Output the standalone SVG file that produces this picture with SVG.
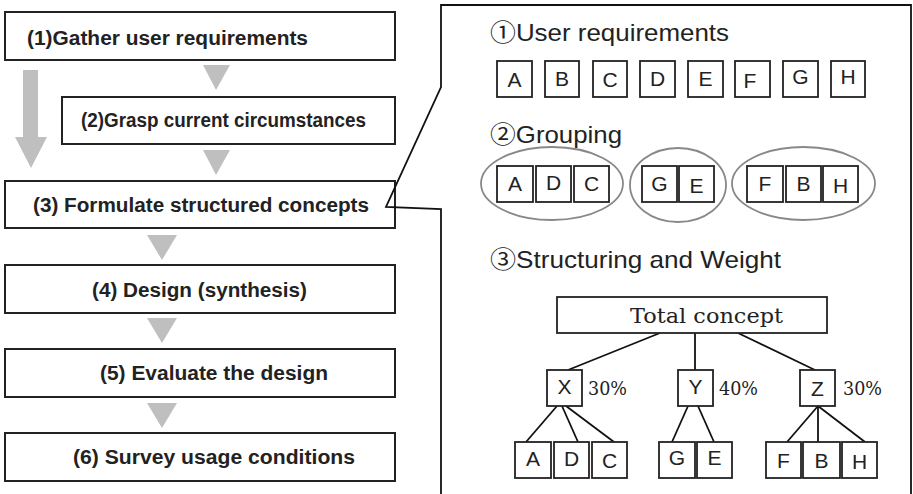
<svg xmlns="http://www.w3.org/2000/svg" width="913" height="494" viewBox="0 0 913 494">
<style>
.step{fill:#fff;stroke:#222;stroke-width:2}
.st{font-family:"Liberation Sans",Arial,sans-serif;font-weight:bold;font-size:19.5px;fill:#222}
.tri{fill:#bfbfbf}
.hd{font-family:"Liberation Sans","Noto Sans CJK JP",Arial,sans-serif;font-size:24px;fill:#222}
.bx{fill:#fff;stroke:#222;stroke-width:1.8}
.lt{font-family:"Liberation Sans",Arial,sans-serif;font-size:21px;fill:#222;text-anchor:middle}
.ell{fill:none;stroke:#888;stroke-width:1.8}
.ln{stroke:#111;stroke-width:1.8;fill:none}
.pct{font-family:"DejaVu Serif","Liberation Serif",serif;font-size:18px;fill:#222}
</style>
<g id="flow-arrows">
<polygon class="tri" points="23,70 38,70 38,137 47,137 31,168 15,137 23,137"/>
<polygon class="tri" points="203,65 230,65 216,90"/>
<polygon class="tri" points="203,150 230,150 216,175"/>
<polygon class="tri" points="147,235 177,235 162,260"/>
<polygon class="tri" points="147,318 177,318 162,343"/>
<polygon class="tri" points="147,403 177,403 162,428"/>
</g>
<g id="step1"><rect class="step" x="5" y="12" width="390" height="48"/><text class="st" x="27" y="45" textLength="281" lengthAdjust="spacingAndGlyphs">(1)Gather user requirements</text></g>
<g id="step2"><rect class="step" x="62" y="97" width="333" height="47"/><text class="st" x="81" y="127" font-size="18" textLength="285" lengthAdjust="spacingAndGlyphs">(2)Grasp current circumstances</text></g>
<g id="step3"><rect class="step" x="5" y="181" width="390" height="47"/><text class="st" x="33" y="212" textLength="336" lengthAdjust="spacingAndGlyphs">(3) Formulate structured concepts</text></g>
<g id="step4"><rect class="step" x="5" y="265" width="390" height="48"/><text class="st" x="92" y="297" textLength="215" lengthAdjust="spacingAndGlyphs">(4) Design (synthesis)</text></g>
<g id="step5"><rect class="step" x="5" y="349" width="390" height="48"/><text class="st" x="100" y="380" textLength="228" lengthAdjust="spacingAndGlyphs">(5) Evaluate the design</text></g>
<g id="step6"><rect class="step" x="5" y="433" width="390" height="48"/><text class="st" x="73" y="464" textLength="282" lengthAdjust="spacingAndGlyphs">(6) Survey usage conditions</text></g>
<g id="callout">
<path class="ln" stroke-width="2" d="M441,494 V209 L386,207 L441,87 V5 H911 V494"/>
</g>
<g id="sec1">
<text class="hd" x="490" y="41" textLength="239" lengthAdjust="spacingAndGlyphs">①User requirements</text>
<g id="req">
<rect class="bx" x="497" y="61" width="35" height="36"/><text class="lt" x="514.5" y="87">A</text>
<rect class="bx" x="545" y="61" width="34" height="36"/><text class="lt" x="562" y="86">B</text>
<rect class="bx" x="593" y="61" width="34" height="36"/><text class="lt" x="610" y="87">C</text>
<rect class="bx" x="640" y="61" width="35" height="36"/><text class="lt" x="657.5" y="86">D</text>
<rect class="bx" x="688" y="61" width="35" height="36"/><text class="lt" x="705.5" y="86">E</text>
<rect class="bx" x="735" y="61" width="35" height="36"/><text class="lt" x="750" y="88">F</text>
<rect class="bx" x="783" y="61" width="35" height="36"/><text class="lt" x="800.5" y="84">G</text>
<rect class="bx" x="831" y="61" width="34" height="36"/><text class="lt" x="848" y="84">H</text>
</g>
</g>
<g id="sec2">
<text class="hd" x="490" y="143" textLength="132" lengthAdjust="spacingAndGlyphs">②Grouping</text>
<g id="group1">
<ellipse class="ell" cx="552" cy="183.5" rx="71" ry="36.5"/>
<rect class="bx" x="497" y="166" width="36" height="36"/><text class="lt" x="515" y="191">A</text>
<rect class="bx" x="536" y="166" width="35" height="36"/><text class="lt" x="553.5" y="190">D</text>
<rect class="bx" x="574" y="166" width="35" height="36"/><text class="lt" x="591.5" y="191">C</text>
</g>
<g id="group2">
<ellipse class="ell" cx="678" cy="185" rx="48" ry="37"/>
<rect class="bx" x="642" y="166" width="35" height="36"/><text class="lt" x="659.5" y="191">G</text>
<rect class="bx" x="679" y="166" width="35" height="36"/><text class="lt" x="696.5" y="193">E</text>
</g>
<g id="group3">
<ellipse class="ell" cx="803.5" cy="183.5" rx="71.5" ry="36.5"/>
<rect class="bx" x="747" y="166" width="36" height="36"/><text class="lt" x="765" y="191">F</text>
<rect class="bx" x="786" y="166" width="35" height="36"/><text class="lt" x="803.5" y="191">B</text>
<rect class="bx" x="823" y="166" width="35" height="36"/><text class="lt" x="840.5" y="193">H</text>
</g>
</g>
<g id="sec3">
<text class="hd" x="490" y="268" textLength="291" lengthAdjust="spacingAndGlyphs">③Structuring and Weight</text>
</g>
<g id="tree-connectors">
<line class="ln" x1="660" y1="333" x2="568" y2="370"/>
<line class="ln" x1="695" y1="333" x2="695" y2="370"/>
<line class="ln" x1="738" y1="333" x2="815" y2="370"/>
<line class="ln" x1="557" y1="406" x2="526" y2="442"/>
<line class="ln" x1="562" y1="406" x2="578" y2="442"/>
<line class="ln" x1="566" y1="406" x2="614" y2="442"/>
<line class="ln" x1="688" y1="406" x2="672" y2="442"/>
<line class="ln" x1="698" y1="406" x2="714" y2="442"/>
<line class="ln" x1="818" y1="406" x2="787" y2="442"/>
<line class="ln" x1="818" y1="406" x2="818" y2="442"/>
<line class="ln" x1="818" y1="406" x2="865" y2="442"/>
</g>
<g id="total"><rect class="bx" x="557" y="297" width="270" height="36"/><text x="630" y="323" font-family="'DejaVu Serif','Liberation Serif',serif" font-size="20" fill="#222" textLength="153" lengthAdjust="spacingAndGlyphs">Total concept</text></g>
<g id="X"><rect class="bx" x="547" y="370" width="35" height="36"/><text class="lt" x="564.5" y="394">X</text><text class="pct" x="588" y="395" textLength="39" lengthAdjust="spacingAndGlyphs">30%</text></g>
<g id="Y"><rect class="bx" x="678" y="370" width="35" height="36"/><text class="lt" x="695.5" y="394">Y</text><text class="pct" x="719" y="395" textLength="39" lengthAdjust="spacingAndGlyphs">40%</text></g>
<g id="Z"><rect class="bx" x="800" y="370" width="35" height="36"/><text class="lt" x="817.5" y="396">Z</text><text class="pct" x="843" y="395" textLength="39" lengthAdjust="spacingAndGlyphs">30%</text></g>
<g id="leaves">
<rect class="bx" x="515" y="442" width="36" height="36"/><text class="lt" x="533" y="466">A</text>
<rect class="bx" x="554" y="442" width="35" height="36"/><text class="lt" x="571.5" y="466">D</text>
<rect class="bx" x="592" y="442" width="35" height="36"/><text class="lt" x="609.5" y="468">C</text>
<rect class="bx" x="659" y="442" width="36" height="36"/><text class="lt" x="677" y="465">G</text>
<rect class="bx" x="697" y="442" width="35" height="36"/><text class="lt" x="714.5" y="465">E</text>
<rect class="bx" x="766" y="442" width="35" height="36"/><text class="lt" x="783.5" y="468">F</text>
<rect class="bx" x="803" y="442" width="37" height="36"/><text class="lt" x="821.5" y="468">B</text>
<rect class="bx" x="842" y="442" width="35" height="36"/><text class="lt" x="859.5" y="469">H</text>
</g>
</svg>
